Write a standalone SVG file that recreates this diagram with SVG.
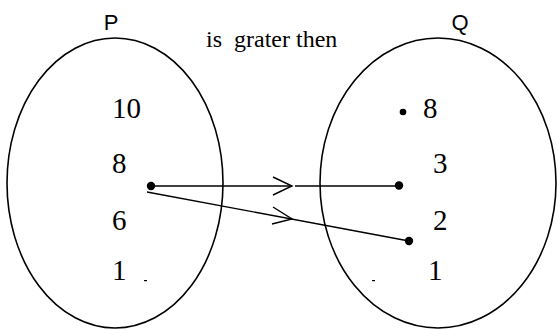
<svg xmlns="http://www.w3.org/2000/svg" width="558" height="330" viewBox="0 0 558 330">
<style>
.set{fill:none;stroke:#000;stroke-width:1.6}
.lbl{font-family:"Liberation Sans",Arial,sans-serif;font-size:22px;fill:#000}
.num{font-family:"Liberation Serif","Times New Roman",serif;font-size:29px;fill:#000}
.cap{font-family:"Liberation Serif","Times New Roman",serif;font-size:24px;fill:#000}
.ln{fill:none;stroke:#000;stroke-width:1.4}
</style>
<rect width="558" height="330" fill="#fff"/>
<g id="setP">
<ellipse class="set" cx="115" cy="183" rx="108" ry="145"/>
<text class="lbl" x="111" y="30" text-anchor="middle">P</text>
<text class="num" x="112" y="118">10</text>
<text class="num" x="112" y="173">8</text>
<text class="num" x="112" y="230">6</text>
<text class="num" x="112" y="280">1</text>
<rect x="144" y="280" width="3" height="1.2" fill="#000"/>
</g>
<g id="setQ">
<ellipse class="set" cx="438" cy="183" rx="118" ry="145"/>
<text class="lbl" x="460" y="30" text-anchor="middle">Q</text>
<circle cx="403" cy="112" r="3.3"/>
<text class="num" x="423" y="118">8</text>
<text class="num" x="433" y="173">3</text>
<text class="num" x="433" y="230">2</text>
<text class="num" x="428" y="280">1</text>
<rect x="372" y="280" width="3" height="1.2" fill="#000"/>
</g>
<g id="title">
<text class="cap" x="206" y="47" xml:space="preserve">is  grater then</text>
</g>
<g id="connectors">
<circle cx="151" cy="186" r="4.2"/>
<line class="ln" x1="151" y1="186" x2="292" y2="186"/>
<polyline class="ln" points="273,177 292,186 273,195"/>
<line class="ln" x1="295" y1="186" x2="399" y2="186"/>
<circle cx="399" cy="185.5" r="4.2"/>
<line class="ln" x1="147" y1="192" x2="409" y2="241"/>
<polyline class="ln" points="273,207 292,219 272,224"/>
<circle cx="409" cy="241" r="4.2"/>
</g>
</svg>
